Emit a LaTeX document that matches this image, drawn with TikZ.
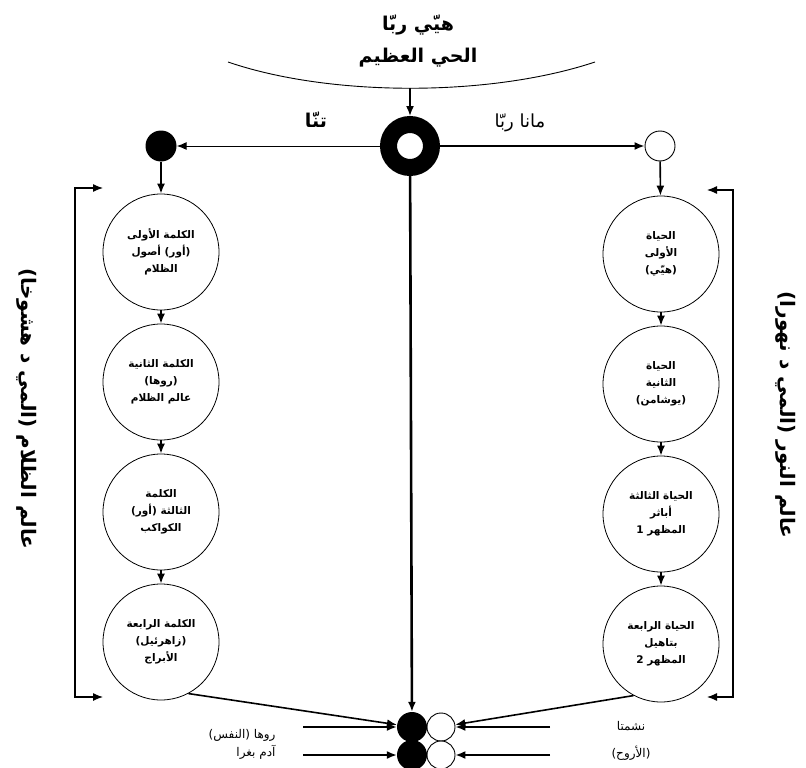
\documentclass[tikz,border=0pt]{standalone}
\usepackage{fontspec}
\usepackage{tikz}
\usetikzlibrary{positioning,arrows.meta}
\newfontfamily\arabicfont[Script=Arabic]{DejaVu Sans}
\TeXXeTstate=1
\newcommand{\rl}[1]{\beginR #1\endR}

\begin{document}
\begin{tikzpicture}[x=1pt,y=1pt,node distance=130pt,on grid,
  >={Latex[length=10pt,width=8pt]},
  sphere/.style={circle,draw,line width=0.8pt,minimum size=116pt,inner sep=0pt,align=center,
    font=\arabicfont\bfseries\fontsize{10.5}{17}\selectfont},
  blackdot/.style={circle,fill,inner sep=0pt,minimum size=#1},
  whitedot/.style={circle,draw,line width=0.9pt,fill=white,inner sep=0pt,minimum size=#1},
  flow/.style={->,line width=1.6pt},
  caption/.style={font=\arabicfont\fontsize{12}{18}\selectfont}]
\useasboundingbox (0,0) rectangle (806,-768);

\node[font=\arabicfont\bfseries\fontsize{19}{32}\selectfont,align=center] (hayyi) at (418,-41)
  {\rl{هيّي ربّا}\\\rl{الحي العظيم}};
\coordinate (arcL) at (228,-62);
\coordinate (arcR) at (595,-62);
\coordinate (drop) at (410,-88);
\draw[line width=0.9pt] (arcL) .. controls (330,-97) and (490,-97) .. (arcR);

\node[circle,draw,line width=17pt,minimum size=43pt,inner sep=0pt] (ring) at (410,-146) {};
\node[blackdot=31pt] (tanna) at (161,-146) {};
\node[whitedot=30pt] (mana) at (660,-146) {};
\node[font=\arabicfont\bfseries\fontsize{19}{20}\selectfont] (tannaname) at (316,-120) {\rl{تنّا}};
\node[font=\arabicfont\fontsize{18}{20}\selectfont] (mananame) at (520,-123) {\rl{مانا ربّا}};

\node[sphere] (darkA) at (161,-252) {\rl{الكلمة الأولى}\\\rl{(أور) أصول}\\\rl{الظلام}};
\node[sphere] (darkB) [below=of darkA] {\rl{الكلمة الثانية}\\\rl{(روها)}\\\rl{عالم الظلام}};
\node[sphere] (darkC) [below=of darkB] {\rl{الكلمة}\\\rl{الثالثة (أور)}\\\rl{الكواكب}};
\node[sphere] (darkD) [below=of darkC] {\rl{الكلمة الرابعة}\\\rl{(زاهرئيل)}\\\rl{الأبراج}};

\node[sphere] (lightA) at (661,-254) {\rl{الحياة}\\\rl{الأولى}\\\rl{(هيّي)}};
\node[sphere] (lightB) [below=of lightA] {\rl{الحياة}\\\rl{الثانية}\\\rl{(يوشامن)}};
\node[sphere] (lightC) [below=of lightB] {\rl{الحياة الثالثة}\\\rl{أباثر}\\\rl{المظهر 1}};
\node[sphere] (lightD) [below=of lightC] {\rl{الحياة الرابعة}\\\rl{بتاهيل}\\\rl{المظهر 2}};

\node[blackdot=30pt] (soulA) at (412,-727) {};
\node[whitedot=28pt] (spiritA) at (441,-727) {};
\node[blackdot=30pt] (soulB) at (412,-755) {};
\node[whitedot=28pt] (spiritB) at (441,-755) {};

\coordinate (inL1) at (303,-727);
\coordinate (inL2) at (303,-755);
\coordinate (inR1) at (550,-727);
\coordinate (inR2) at (550,-755);

\draw[flow] (drop) -- (ring);
\draw[->,line width=1pt] (ring) -- (tanna);
\draw[flow] (ring) -- (mana);
\draw[->,line width=2.6pt] (ring) -- (soulA);

\path[flow]
	(tanna) edge (darkA)
	(darkA) edge (darkB)
	(darkB) edge (darkC)
	(darkC) edge (darkD)
	(mana) edge (lightA)
	(lightA) edge (lightB)
	(lightB) edge (lightC)
	(lightC) edge (lightD)
	(darkD.-62) edge (soulA)
	(inL1) edge (soulA)
	(inL2) edge (soulB)
	(lightD.-118) edge (spiritA)
	(inR1) edge (spiritA)
	(inR2) edge (spiritB);

\coordinate (brLtop) at (103,-188);
\coordinate (brLbot) at (103,-697);
\coordinate (brRtop) at (707,-190);
\coordinate (brRbot) at (707,-697);
\draw[<->,line width=1.2pt] (brLtop) -- ++(-28,0) |- (brLbot);
\draw[<->,line width=1.2pt] (brRtop) -- ++(26,0) |- (brRbot);

\node[rotate=-90,font=\arabicfont\bfseries\fontsize{20}{24}\selectfont] (darkworld) at (27,-409)
  {\rl{عالم الظلام (المي د هشوخا)}};
\node[rotate=-90,font=\arabicfont\bfseries\fontsize{20}{24}\selectfont] (lightworld) at (786,-415)
  {\rl{عالم النور (المي د نهورا)}};

\node[caption,align=right,anchor=east] (ruha) at (279,-744) {\rl{روها (النفس)}\\\rl{آدم بغرا}};
\node[caption,align=center,font=\arabicfont\fontsize{12}{27}\selectfont] (nishmta) at (631,-741)
  {\rl{نشمتا}\\\rl{(الأروح)}};
\end{tikzpicture}
\end{document}
